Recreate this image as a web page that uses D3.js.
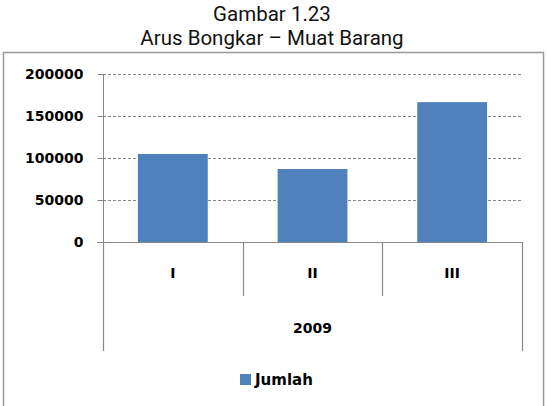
<!DOCTYPE html>
<html><head><meta charset="utf-8">
<script src="https://cdn.jsdelivr.net/npm/d3@7"></script>
<style>body{margin:0;background:#fff;} svg{display:block;}</style>
</head><body>
<script>
const titleLines = ["Gambar 1.23", "Arus Bongkar – Muat Barang"];
const categories = ["I", "II", "III"];
const groupLabel = "2009";
const seriesName = "Jumlah";
const values = [104800, 86900, 166500];
const yTicks = [0, 50000, 100000, 150000, 200000];

(function () {
const W = 547, H = 406;
const svg = d3.select("body").append("svg").attr("width", W).attr("height", H);
const pL = 103, pR = 522, pT = 74, pB = 242;
const barColor = "#4f81bd";
const lab = "'DejaVu Sans', Verdana, sans-serif";

// title
svg.selectAll("text.title").data(titleLines).join("text").attr("class", "title")
  .attr("x", 272).attr("y", (d, i) => 21 + i * 24)
  .attr("text-anchor", "middle")
  .style("font-family", "Roboto, 'Open Sans', sans-serif")
  .style("font-size", "20.5px").attr("fill", "#111")
  .text(d => d);

// frame
svg.append("rect").attr("x", 3.5).attr("y", 52.5).attr("width", 540).attr("height", 380)
  .attr("fill", "none").attr("stroke", "#999").attr("stroke-width", 1.5);

const x = d3.scaleBand().domain(categories).range([pL, pR]).paddingInner(0).paddingOuter(0);
const y = d3.scaleLinear().domain([0, 200000]).range([pB, pT]);

// gridlines
svg.append("g").selectAll("line").data(yTicks.filter(t => t > 0)).join("line")
  .attr("x1", pL).attr("x2", pR)
  .attr("y1", d => Math.round(y(d)) + 0.5).attr("y2", d => Math.round(y(d)) + 0.5)
  .attr("stroke", "#888").attr("stroke-dasharray", "3,2");

// y axis
const yAxis = d3.axisLeft(y).tickValues(yTicks).tickSize(6).tickPadding(14).tickFormat(d3.format("d"));
const ga = svg.append("g").attr("transform", `translate(${pL + 0.5},0)`).call(yAxis);
ga.select(".domain").attr("stroke", "#888").attr("d", `M0,${pT}V${pB}`);
ga.selectAll(".tick line").attr("stroke", "#888");
ga.selectAll(".tick").attr("transform", d => `translate(0,${Math.round(y(d)) + 0.5})`);
ga.selectAll(".tick text").style("font-family", lab).style("font-weight", "bold")
  .style("font-size", "14px").attr("fill", "#000");

// bars
svg.append("g").selectAll("rect").data(values).join("rect")
  .attr("x", (d, i) => x(categories[i]) + x.bandwidth() * 0.25)
  .attr("width", x.bandwidth() * 0.5)
  .attr("y", d => y(d)).attr("height", d => pB - y(d))
  .attr("fill", barColor);

// category axis
const ax = svg.append("g").attr("stroke", "#888").attr("stroke-width", 1.2);
ax.append("line").attr("x1", pL - 6).attr("x2", pR).attr("y1", pB + 0.5).attr("y2", pB + 0.5);
const bounds = categories.map(c => x(c)).concat([pR]);
ax.selectAll("line.div").data(bounds).join("line").attr("class", "div")
  .attr("x1", d => Math.round(d) + 0.5).attr("x2", d => Math.round(d) + 0.5)
  .attr("y1", pB)
  .attr("y2", (d, i) => (i === 0 || i === bounds.length - 1) ? 351 : 296);

svg.append("g").selectAll("text").data(categories).join("text")
  .attr("x", d => x(d) + x.bandwidth() / 2).attr("y", 278)
  .attr("text-anchor", "middle")
  .style("font-family", lab).style("font-weight", "bold").style("font-size", "14px")
  .text(d => d);

svg.append("text").attr("x", (pL + pR) / 2).attr("y", 333).attr("text-anchor", "middle")
  .style("font-family", lab).style("font-weight", "bold").style("font-size", "14px")
  .text(groupLabel);

// legend
svg.append("rect").attr("x", 240).attr("y", 374).attr("width", 11).attr("height", 11).attr("fill", barColor);
svg.append("text").attr("x", 255).attr("y", 385)
  .style("font-family", lab).style("font-weight", "bold").style("font-size", "15px")
  .text(seriesName);
})();
</script>
</body></html>
